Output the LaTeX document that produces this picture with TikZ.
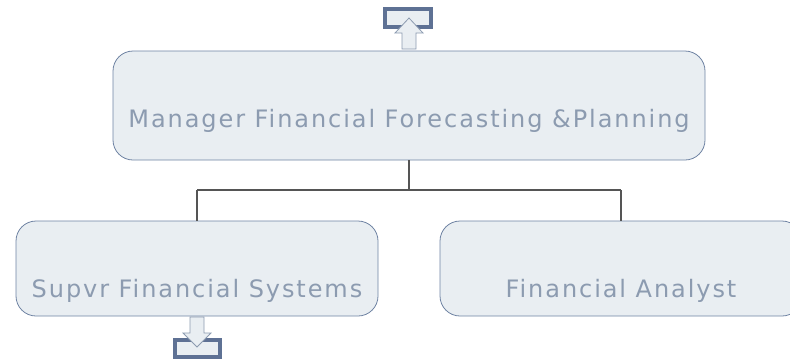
\documentclass[tikz,border=0pt]{standalone}
\usepackage{fontspec}
\setmainfont{DejaVu Sans}[LetterSpace=8]
\definecolor{boxfill}{HTML}{E9EEF2}
\definecolor{boxline}{HTML}{6F83A3}
\definecolor{txt}{HTML}{8C9BB0}
\definecolor{conn}{HTML}{555555}
\definecolor{mark}{HTML}{5E7194}
\begin{document}
\begin{tikzpicture}[x=1pt,y=-1pt,
  orgbox/.style={draw=boxline,fill=boxfill,line width=0.8pt,rounded corners=20pt},
  lbl/.style={text=txt,font=\fontsize{24}{29}\selectfont,anchor=base,inner sep=0pt},
  conline/.style={draw=conn,line width=1.2pt},
  trayrect/.style={draw=mark,fill=boxfill,line width=3.5pt},
  arrowshape/.style={draw=txt,fill=boxfill,line width=0.8pt}]
\useasboundingbox (0,0) rectangle (790,360);
\clip (0,0) rectangle (790,360);
% boxes
\draw[orgbox] (113,51) rectangle (705,160);
\draw[orgbox] (16,221) rectangle (378,316);
\draw[orgbox] (440,221) rectangle (802,316);
\coordinate (topb) at (409,160);
\coordinate (mid) at (409,190);
\coordinate (lj) at (197,190);
\coordinate (rj) at (621,190);
\coordinate (lt) at (197,221);
\coordinate (rt) at (621,221);
\draw[conline] (topb) -- (mid);
\draw[conline] (lj) -- (rj);
\draw[conline] (lj) -- (lt);
\draw[conline] (rj) -- (rt);
% labels
\node[lbl] (t1) at (409,127) {Manager Financial Forecasting \&Planning};
\node[lbl] (t2) at (197,297) {Supvr Financial Systems};
\node[lbl] (t3) at (621,297) {Financial Analyst};
% top marker
\draw[trayrect] (385,9) rectangle (431,27);
\draw[arrowshape] (402,49) -- (402,33) -- (395,33) -- (409,18) -- (423,33) -- (416,33) -- (416,49) -- cycle;
% bottom marker
\draw[trayrect] (175,340) rectangle (220,357);
\draw[arrowshape] (190,317) -- (190,333) -- (183,333) -- (197,347) -- (211,333) -- (204,333) -- (204,317) -- cycle;
\end{tikzpicture}
\end{document}
